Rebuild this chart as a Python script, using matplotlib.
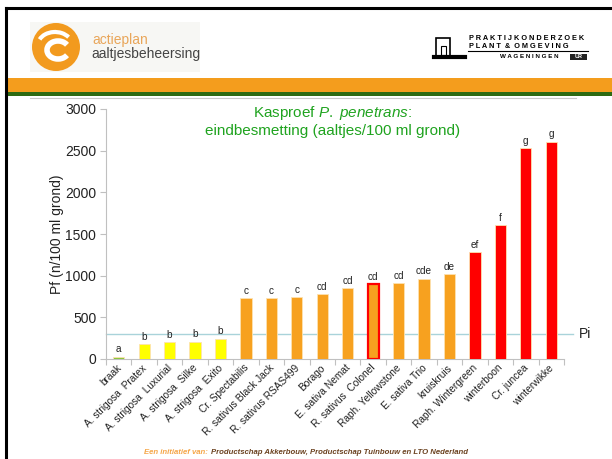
import numpy as np
import matplotlib.pyplot as plt
from matplotlib.patches import Rectangle, Ellipse, Arc

plt.rcParams['font.family'] = ['Liberation Sans', 'DejaVu Sans']
plt.rcParams['mathtext.fontset'] = 'custom'
plt.rcParams['mathtext.rm'] = 'Liberation Sans'
plt.rcParams['mathtext.it'] = 'Liberation Sans:italic'

# data
gewassen = ['braak', 'A. strigosa  Pratex', 'A. strigosa  Luxurial', 'A. strigosa  Silke',
            'A. strigosa  Exito', 'Cr. Spectabilis', 'R. sativus Black Jack', 'R. sativus RSAS499',
            'Borago', 'E. sativa Nemat', 'R. sativus  Colonel', 'Raph. Yellowstone',
            'E. sativa Trio', 'kruiskruis', 'Raph. Wintergreen', 'winterboon',
            'Cr. juncea', 'winterwikke']
pf = [30, 185, 200, 210, 245, 730, 735, 745, 775, 850, 905, 910, 965, 1015, 1285, 1610, 2535, 2610]
letters = ['a', 'b', 'b', 'b', 'b', 'c', 'c', 'c', 'cd', 'cd', 'cd', 'cd', 'cde', 'de',
           'ef', 'f', 'g', 'g']
groups = ['green', 'yellow', 'yellow', 'yellow', 'yellow'] + ['orange'] * 9 + ['red'] * 4
pi = 305

colmap = {'green': '#8cc63e', 'yellow': '#ffff00', 'orange': '#f7a11f', 'red': '#ff0000'}
W, H = 612, 459

fig = plt.figure(figsize=(W / 100, H / 100), dpi=100)

# slide background / header (pixel coordinates)
bg = fig.add_axes([0, 0, 1, 1], zorder=0)
bg.set_xlim(0, W)
bg.set_ylim(H, 0)
bg.axis('off')
bg.plot([6, 6], [8, H], color='black', lw=2.2)
bg.plot([6, W], [8, 8], color='black', lw=2.2)
bg.add_patch(Rectangle((7, 78), W, 14, color='#f49d1d', lw=0))
bg.add_patch(Rectangle((7, 92), W, 4, color='#2d6a12', lw=0))
bg.plot([30, 576], [97.5, 97.5], color='#c8c8c8', lw=0.8)

# left logo
bg.add_patch(Rectangle((30, 22), 170, 50, color='#f7f7f4', lw=0))
bg.add_patch(Ellipse((56, 47), 48, 48, color='#f29a1e', lw=0))
bg.add_patch(Arc((58, 50), 22, 18, theta1=30, theta2=330, color='white', lw=4))
bg.add_patch(Arc((55, 45), 34, 26, theta1=200, theta2=330, color='white', lw=3))
bg.text(92, 40, 'actieplan', fontsize=10, color='#e9a65a', va='center')
bg.text(91, 54, 'aaltjesbeheersing', fontsize=10, color='#444444', va='center')

# right logo
bg.add_patch(Rectangle((436, 38), 14, 18, fill=False, ec='black', lw=1.2))
bg.add_patch(Rectangle((441, 46), 5, 9, fill=False, ec='black', lw=0.8))
bg.plot([434, 465], [57, 57], color='black', lw=3)
bg.text(469, 38, 'P R A K T I J K O N D E R Z O E K', fontsize=5.3, color='black',
        va='center', weight='bold')
bg.text(469, 46, 'P L A N T  &  O M G E V I N G', fontsize=5.3, color='black',
        va='center', weight='bold')
bg.plot([468, 588], [51, 51], color='black', lw=0.8)
bg.text(500, 57, 'W A G E N I N G E N', fontsize=4.5, color='black', va='center',
        weight='bold')
bg.add_patch(Rectangle((570, 54), 17, 6, color='#222222', lw=0))
bg.text(578.5, 57, 'UR', fontsize=4, color='white', va='center', ha='center',
        weight='bold')

# footer
bg.text(144, 452, 'Een initiatief van:', fontsize=5.6, color='#f5a648', va='center',
        style='italic', weight='bold')
bg.text(211, 452, 'Productschap Akkerbouw, Productschap Tuinbouw en LTO Nederland',
        fontsize=5.6, color='#6b4220', va='center', style='italic', weight='bold')

# chart
ax = fig.add_axes([106 / W, (H - 359) / H, 458 / W, 250 / H], zorder=1)
ax.patch.set_alpha(0)
x = np.arange(len(gewassen))
n = len(gewassen)
cols = [colmap[g] for g in groups]
edges = ['#ff0000' if g == 'R. sativus  Colonel' else '#fde2b0' for g in gewassen]
lws = [1.6 if g == 'R. sativus  Colonel' else 0.6 for g in gewassen]
ax.bar(x, pf, width=0.44, color=cols, edgecolor=edges, linewidth=lws, zorder=3)
for xi, v, l in zip(x, pf, letters):
    ax.text(xi, v + 25, l, ha='center', va='bottom', fontsize=7.2, color='#222222')

ax.plot([-0.5, n - 0.5 + 0.36], [pi, pi], color='#a9d3da', lw=1.0, clip_on=False, zorder=2)
ax.text(n - 0.5 + 0.58, pi, 'Pi', fontsize=10, va='center', ha='left', color='#222222')

ax.set_xlim(-0.5, n - 0.5)
ax.set_ylim(0, 3000)
ax.set_yticks(np.arange(0, 3001, 500))
ax.tick_params(axis='y', labelsize=10, colors='#c0c0c0', labelcolor='#222222', length=4,
               pad=3)
ax.set_xticks(np.arange(-0.5, n, 1))
ax.set_xticklabels([])
ax.tick_params(axis='x', colors='#c0c0c0', length=4)
for xi, lab in zip(x, gewassen):
    ax.text(xi - 0.1, -45, lab, rotation=45, ha='right', va='top', fontsize=7.3,
            rotation_mode='anchor', color='#222222')
for s in ['top', 'right']:
    ax.spines[s].set_visible(False)
for s in ['left', 'bottom']:
    ax.spines[s].set_color('#c0c0c0')
ax.set_ylabel('Pf (n/100 ml grond)', fontsize=10, color='#222222', labelpad=1)

ax.text(0.494, 0.985, 'Kasproef $\\it{P.\\ penetrans}$:', transform=ax.transAxes,
        ha='center', va='center', fontsize=11, color='#1fa31f')
ax.text(0.494, 0.91, 'eindbesmetting (aaltjes/100 ml grond)', transform=ax.transAxes,
        ha='center', va='center', fontsize=11, color='#1fa31f')

fig.savefig('out.png', dpi=100)
